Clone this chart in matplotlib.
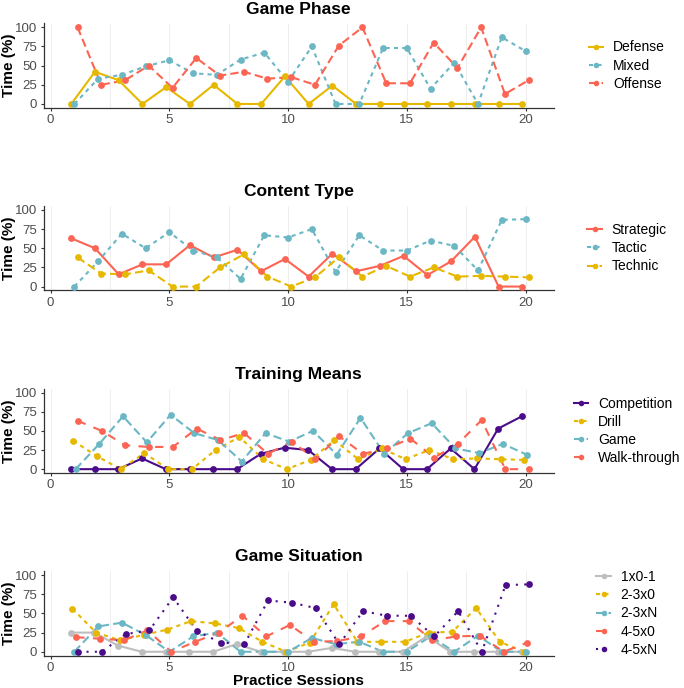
import matplotlib
matplotlib.use("Agg")
import matplotlib.pyplot as plt
from matplotlib.lines import Line2D
import numpy as np

plt.rcParams['font.family'] = ['Liberation Sans', 'DejaVu Sans']

sessions = list(range(1, 21))

# Game Phase
gp_labels = ["Defense", "Mixed", "Offense"]
gp_defense = [0, 42, 31, 0, 22, 0, 25, 0, 0, 36, 0, 24, 0, 0, 0, 0, 0, 0, 0, 0]
gp_mixed = [0, 33, 38, 49, 57, 40, 38, 58, 67, 29, 75, 0, 0, 73, 73, 20, 54, 0, 87, 69]
gp_offense = [100, 25, 31, 50, 21, 60, 37, 42, 33, 35, 25, 76, 100, 27, 27, 80, 47, 100, 13, 31]

# Content Type
ct_labels = ["Strategic", "Tactic", "Technic"]
ct_strategic = [63, 50, 16, 29, 29, 54, 38, 48, 20, 36, 13, 43, 20, 27, 40, 15, 33, 65, 0, 0]
ct_tactic = [0, 33, 69, 50, 71, 47, 38, 10, 67, 64, 75, 19, 67, 47, 47, 60, 53, 21, 87, 88]
ct_technic = [38, 17, 16, 21, 0, 0, 25, 42, 13, 0, 12, 38, 13, 27, 13, 25, 13, 14, 13, 12]

# Training Means
tm_labels = ["Competition", "Drill", "Game", "Walk-through"]
tm_competition = [0, 0, 0, 14, 0, 0, 0, 0, 20, 28, 25, 0, 0, 27, 0, 0, 27, 0, 53, 69]
tm_drill = [37, 17, 0, 21, 0, 0, 25, 42, 13, 0, 12, 38, 13, 27, 13, 25, 13, 14, 13, 12]
tm_game = [0, 33, 69, 35, 71, 47, 38, 10, 47, 36, 50, 19, 67, 20, 47, 60, 27, 21, 33, 19]
tm_walkthrough = [63, 50, 31, 29, 29, 53, 38, 47, 20, 36, 13, 43, 20, 27, 40, 15, 33, 64, 0, 0]

# Game Situation
gs_labels = ["1x0-1", "2-3x0", "2-3xN", "4-5x0", "4-5xN"]
gs_1x01 = [25, 25, 8, 0, 0, 0, 0, 10, 0, 0, 0, 5, 0, 0, 0, 20, 0, 0, 0, 0]
gs_23x0 = [56, 25, 15, 22, 29, 40, 37, 31, 13, 0, 12, 62, 13, 13, 13, 25, 26, 57, 13, 0]
gs_23xn = [0, 33, 38, 22, 0, 20, 25, 0, 0, 0, 18, 10, 13, 0, 0, 20, 0, 21, 0, 0]
gs_45x0 = [19, 17, 15, 28, 0, 13, 25, 47, 20, 35, 13, 14, 20, 40, 40, 15, 20, 21, 0, 12]
gs_45xn = [0, 0, 23, 28, 71, 27, 12, 10, 67, 64, 57, 10, 53, 47, 47, 20, 53, 0, 87, 88]

YELLOW = "#E7B800"
TEAL = "#6BB7C4"
RED = "#FC6453"
PURPLE = "#4B0C8A"
GREY = "#BEBEBE"

LS = ["solid", (0, (2, 2)), (0, (4, 2)), (0, (4, 4)), (0, (1, 3))]

panels = [
    ("Game Phase", gp_labels, [gp_defense, gp_mixed, gp_offense], [YELLOW, TEAL, RED]),
    ("Content Type", ct_labels, [ct_strategic, ct_tactic, ct_technic], [RED, TEAL, YELLOW]),
    ("Training Means", tm_labels, [tm_competition, tm_drill, tm_game, tm_walkthrough],
     [PURPLE, YELLOW, TEAL, RED]),
    ("Game Situation", gs_labels, [gs_1x01, gs_23x0, gs_23xn, gs_45x0, gs_45xn],
     [GREY, YELLOW, TEAL, RED, PURPLE]),
]

W, H = 684, 688
fig = plt.figure(figsize=(W / 100, H / 100), dpi=100)

left_px, right_px = 43.5, 554
dodge_w = 0.4
x = np.array(sessions, dtype=float)

for i, (title, labels, series, colors) in enumerate(panels):
    top_px = 23.5 + 182.6 * i
    bot_px = 107.8 + 182.6 * i
    ax = fig.add_axes([left_px / W, 1 - bot_px / H, (right_px - left_px) / W, (bot_px - top_px) / H])
    n = len(series)
    handles = []
    for j, (vals, col) in enumerate(zip(series, colors)):
        off = (j - (n - 1) / 2) * dodge_w / n
        ax.plot(x + off, vals, color=col, lw=1.5, ls=LS[j], zorder=2)
        ax.scatter(x + off, vals, s=24, color=col, zorder=3, linewidths=0)
        handles.append(Line2D([0], [0], color=col, lw=1.5, ls=LS[j], marker='o',
                              markersize=4, markeredgewidth=0))
    ax.set_xlim(-0.3, 21.2)
    ax.set_ylim(-5, 105)
    ax.set_xticks([0, 5, 10, 15, 20])
    ax.set_yticks([0, 25, 50, 75, 100])
    for gx in np.arange(0, 20.1, 2.5):
        ax.axvline(gx, color="#EBEBEB", lw=0.6, zorder=0)
    for s in ["top", "right"]:
        ax.spines[s].set_visible(False)
    for s in ["left", "bottom"]:
        ax.spines[s].set_color("#333333")
        ax.spines[s].set_linewidth(0.9)
    ax.tick_params(axis='both', colors="#333333", labelcolor="#4D4D4D", labelsize=9.5,
                   length=2.5, width=0.8, pad=2)
    cy_px = (top_px + bot_px) / 2
    fig.text(9.5 / W, 1 - cy_px / H, "Time (%)", rotation=90, ha='center', va='center',
             fontsize=11, fontweight='bold')
    if i == 3:
        ax.set_xlabel("Practice Sessions", fontsize=11, fontweight='bold', labelpad=0)
    cx = (left_px + right_px) / 2 / W
    fig.text(cx, 1 - (top_px - 14.5) / H, title, ha='center', va='center',
             fontsize=12.5, fontweight='bold')
    fig.legend(handles=handles, labels=labels, loc='center', bbox_to_anchor=(627 / W, 1 - cy_px / H),
               frameon=False, fontsize=10, handlelength=1.05, handletextpad=0.7,
               labelspacing=0.3, borderpad=0)

fig.savefig("out.png", dpi=100)
